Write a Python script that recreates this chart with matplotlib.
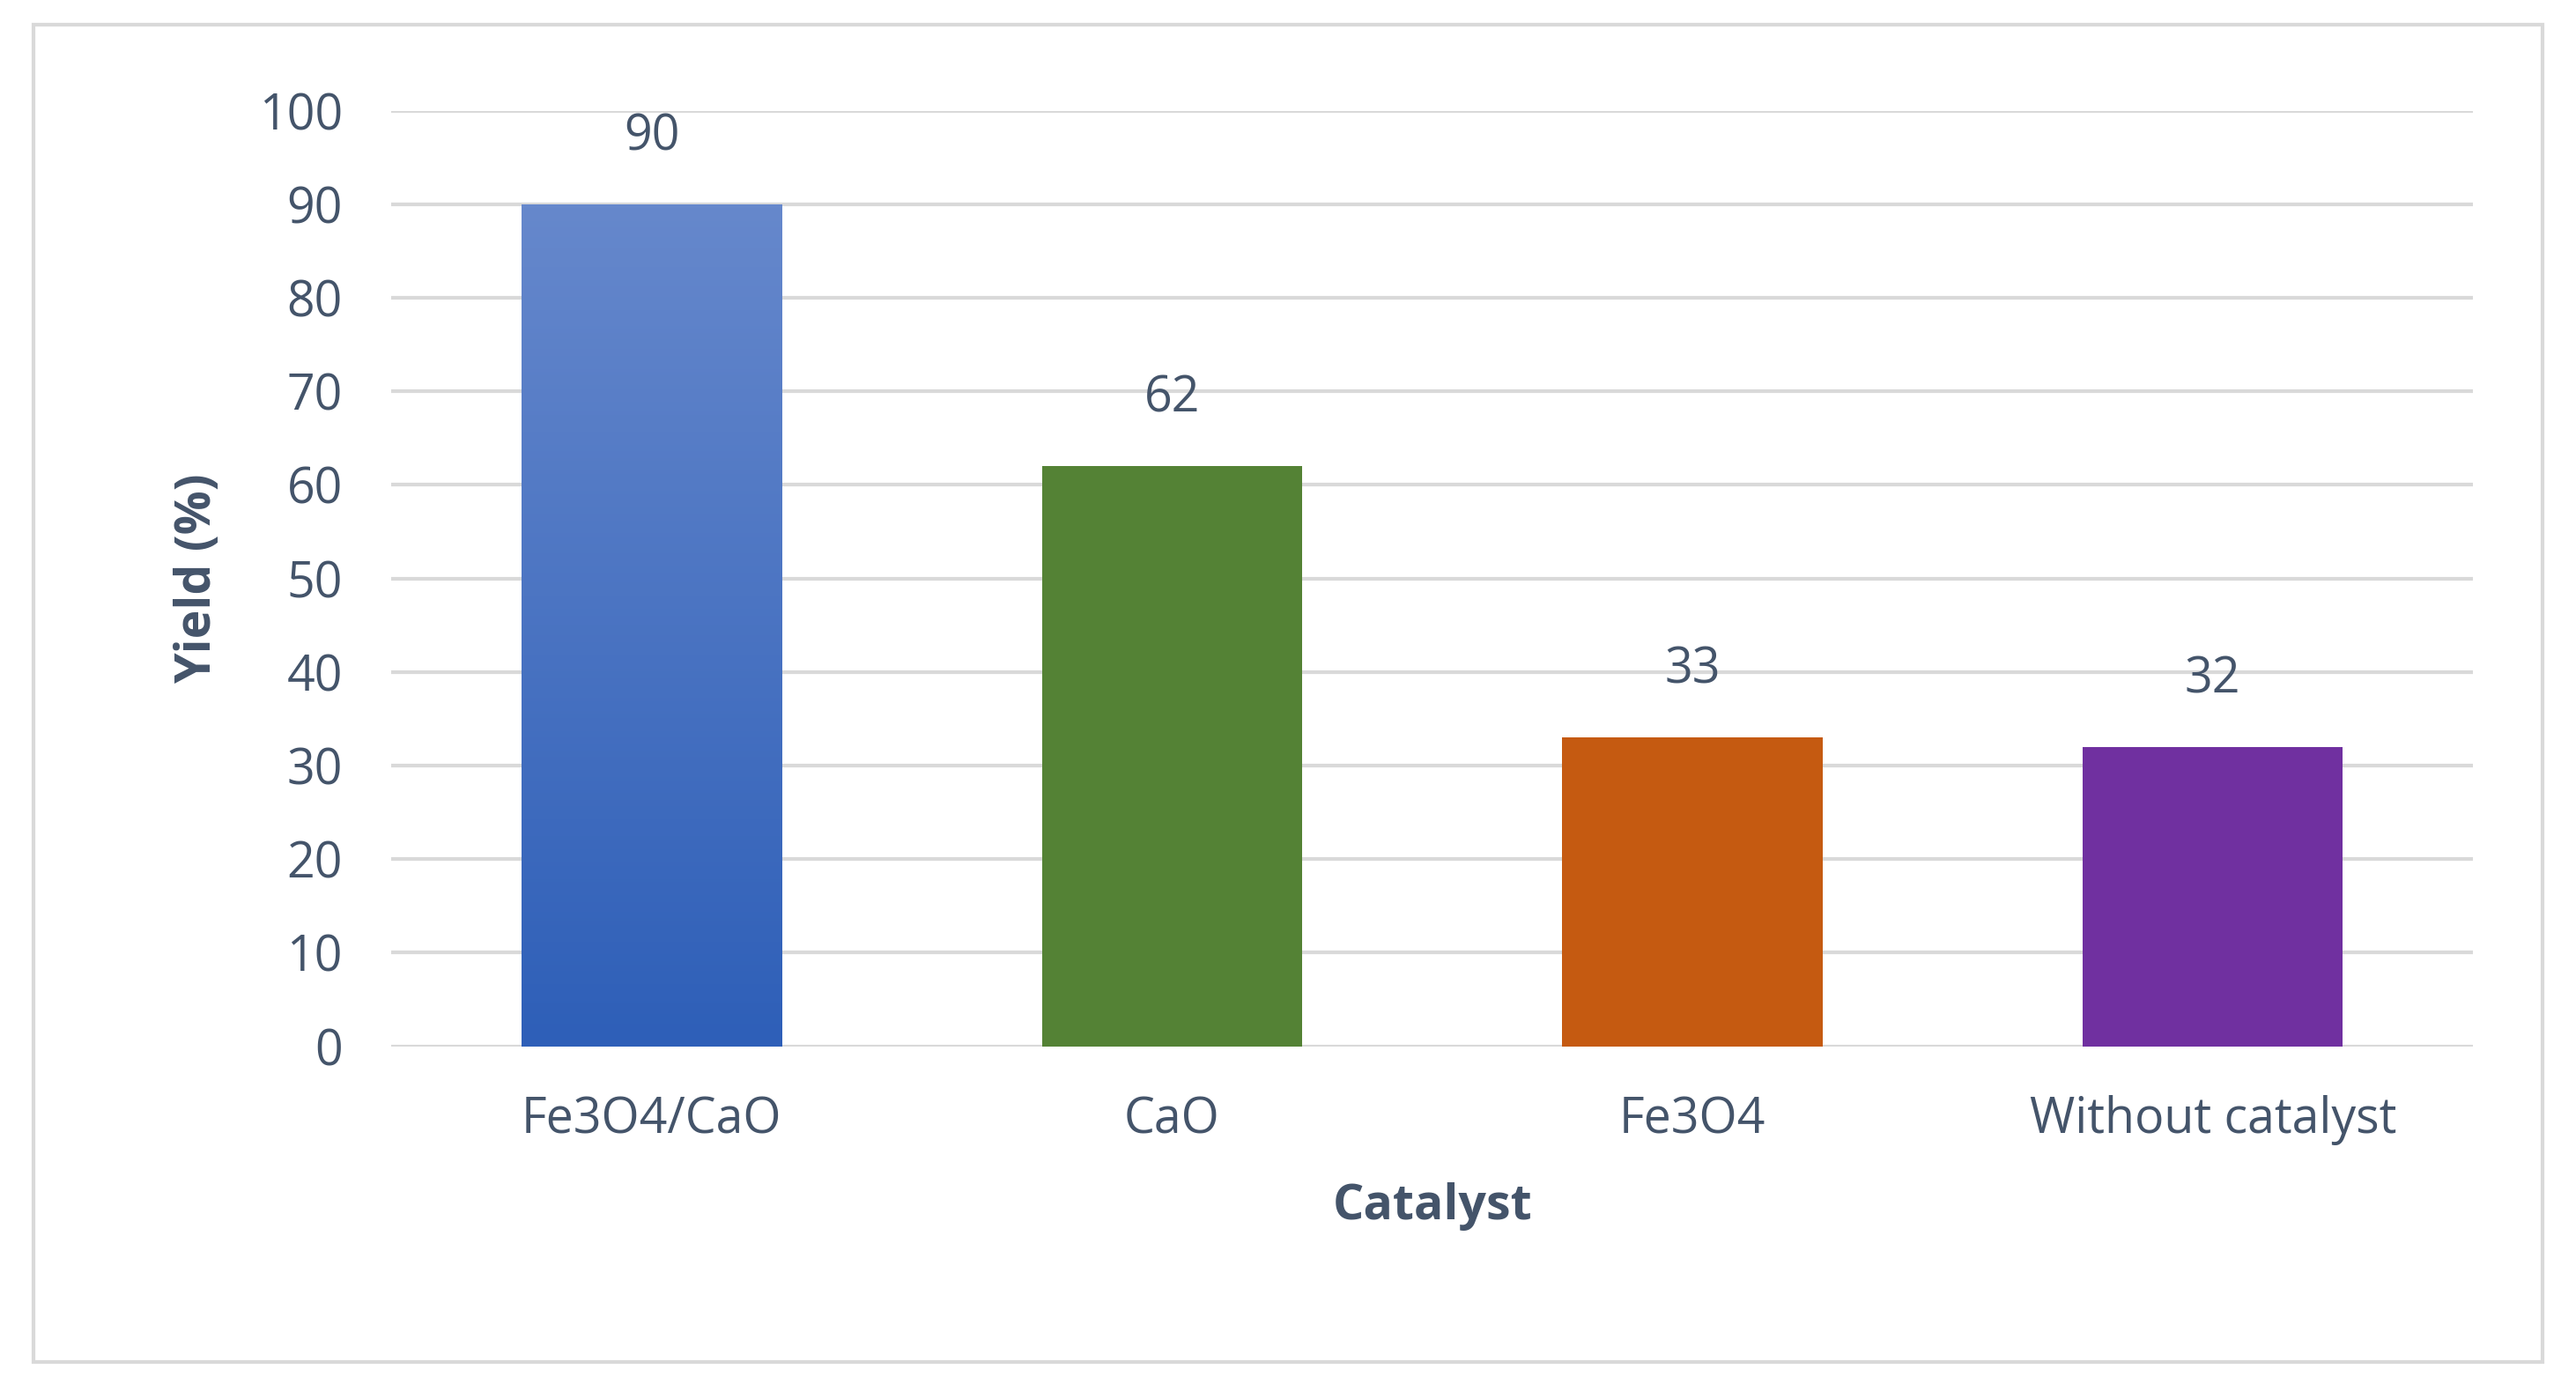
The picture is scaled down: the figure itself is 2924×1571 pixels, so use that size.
import matplotlib
matplotlib.use("Agg")
import matplotlib.pyplot as plt
import matplotlib.patches as mpatches
import numpy as np
from matplotlib.colors import LinearSegmentedColormap

plt.rcParams["font.family"] = ["Open Sans", "DejaVu Sans"]

catalysts = ["Fe3O4/CaO", "CaO", "Fe3O4", "Without catalyst"]
yields = [90, 62, 33, 32]
colors = ["#3A6CC6", "#548235", "#C55A11", "#7030A0"]
TEXT = "#44546A"

fig = plt.figure(figsize=(29.24, 15.71), dpi=100)
fig.patches.append(mpatches.Rectangle((0.013, 0.016), 0.974, 0.966, transform=fig.transFigure,
                                      fill=False, edgecolor="#D9D9D9", linewidth=3))
ax = fig.add_axes([0.152, 0.244, 0.808, 0.676])

x = np.arange(len(catalysts))
bars = ax.bar(x, yields, 0.5, color=colors, zorder=3)

# gradient on first bar
b = bars[0]
grad = LinearSegmentedColormap.from_list("g", ["#2E5FB8", "#6688CC"])
im = ax.imshow(np.linspace(0, 1, 256).reshape(-1, 1), cmap=grad, origin="lower", aspect="auto",
               extent=[b.get_x(), b.get_x() + b.get_width(), 0, b.get_height()], zorder=4)
im.set_clip_path(b)

for xi, v in zip(x, yields):
    ax.text(xi, v + 4.5, str(v), ha="center", va="bottom", fontsize=40, color=TEXT)

ax.set_xlim(-0.5, 3.5)
ax.set_ylim(0, 100)
ax.set_yticks(range(0, 101, 10))
ax.set_xticks(x)
ax.set_xticklabels(catalysts)
ax.yaxis.grid(True, color="#D9D9D9", linewidth=3, zorder=0)
ax.set_axisbelow(True)
for s in ax.spines.values():
    s.set_visible(False)
ax.tick_params(length=0, labelsize=40, labelcolor=TEXT)
ax.tick_params(axis="x", pad=40)
ax.tick_params(axis="y", pad=40)
ax.set_xlabel("Catalyst", fontsize=40, fontweight="bold", color=TEXT, labelpad=30)
ax.set_ylabel("Yield (%)", fontsize=40, fontweight="bold", color=TEXT, labelpad=30)

fig.savefig("out.png", dpi=100)
